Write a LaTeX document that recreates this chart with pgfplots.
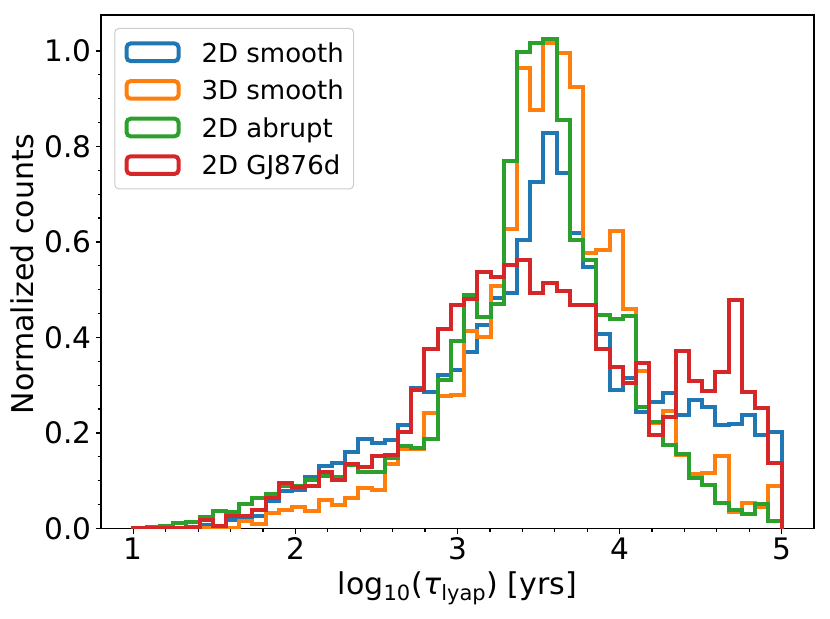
\documentclass[border=0pt]{standalone}
\usepackage{fontspec}
\setmainfont{DejaVu Sans}
\usepackage{pgfplots}
\pgfplotsset{compat=1.18}
\usepackage{pgfplotstable}
\definecolor{tabblue}{HTML}{1F77B4}
\definecolor{taborange}{HTML}{FF7F0E}
\definecolor{tabgreen}{HTML}{2CA02C}
\definecolor{tabred}{HTML}{D62728}

% left bin edges (49 bins between 1 and 5) and normalized counts
\pgfplotstableread{
x      b     o     g     r
1.0000 0     0     0     0
1.0000 0.000 0.000 0.000 0.001
1.0816 0.000 0.000 0.003 0.001
1.1633 0.001 0.000 0.006 0.001
1.2449 0.002 0.000 0.012 0.002
1.3265 0.004 0.001 0.014 0.002
1.4082 0.008 0.002 0.025 0.017
1.4898 0.005 0.004 0.037 0.006
1.5714 0.017 0.002 0.035 0.026
1.6531 0.022 0.015 0.051 0.026
1.7347 0.026 0.010 0.063 0.039
1.8163 0.058 0.033 0.072 0.063
1.8980 0.079 0.039 0.088 0.095
1.9796 0.080 0.044 0.089 0.086
2.0612 0.108 0.036 0.102 0.089
2.1429 0.130 0.059 0.110 0.118
2.2245 0.138 0.049 0.107 0.101
2.3061 0.161 0.064 0.133 0.136
2.3878 0.188 0.085 0.118 0.129
2.4694 0.179 0.080 0.118 0.151
2.5510 0.186 0.136 0.148 0.153
2.6327 0.216 0.166 0.173 0.203
2.7143 0.295 0.166 0.168 0.289
2.7959 0.285 0.241 0.188 0.376
2.8776 0.322 0.278 0.311 0.418
2.9592 0.331 0.279 0.393 0.468
3.0408 0.370 0.414 0.489 0.480
3.1224 0.427 0.400 0.442 0.536
3.2041 0.482 0.507 0.470 0.527
3.2857 0.493 0.626 0.769 0.551
3.3673 0.604 0.964 0.997 0.562
3.4490 0.725 0.877 1.016 0.493
3.5306 0.828 1.016 1.024 0.514
3.6122 0.745 0.995 0.856 0.498
3.6939 0.618 0.924 0.604 0.468
3.7755 0.548 0.577 0.563 0.467
3.8571 0.407 0.583 0.447 0.376
3.9388 0.289 0.623 0.438 0.339
4.0204 0.315 0.460 0.444 0.304
4.1020 0.244 0.330 0.254 0.347
4.1837 0.264 0.220 0.224 0.196
4.2653 0.283 0.247 0.175 0.233
4.3469 0.237 0.153 0.157 0.372
4.4286 0.270 0.115 0.106 0.308
4.5102 0.254 0.116 0.092 0.288
4.5918 0.216 0.152 0.054 0.327
4.6735 0.219 0.035 0.038 0.478
4.7551 0.238 0.054 0.031 0.285
4.8367 0.196 0.045 0.052 0.253
4.9184 0.203 0.090 0.015 0.137
5.0000 0     0     0     0
}\hist

\begin{document}
\begin{tikzpicture}
\path[use as bounding box] (-50.5pt,-44.75pt) rectangle (364.5pt,264.25pt);
\begin{axis}[
  at={(0,0)}, anchor=south west,
  scale only axis, width=356.5pt, height=256.75pt,
  xmin=0.8, xmax=5.2, ymin=0, ymax=1.075,
  axis line style={line width=0.8pt},
  tick align=outside, tick pos=left,
  major tick length=2.5pt, minor tick length=1.65pt,
  every tick/.style={black, line width=0.8pt},
  minor tick style={line width=0.6pt},
  xtick={1,2,3,4,5}, minor x tick num=4,
  ytick={0,0.2,0.4,0.6,0.8,1.0}, minor y tick num=3,
  yticklabel style={/pgf/number format/.cd, fixed, fixed zerofill, precision=1},
  /pgf/number format/assume math mode=true,
  tick label style={font=\fontsize{14.8}{17.5}\selectfont, inner sep=2pt},
  label style={font=\fontsize{15}{18}\selectfont},
  xlabel={log\textsubscript{10}(\textit{τ}\textsubscript{lyap}) [yrs]},
  ylabel={Normalized counts},
  xlabel style={at={(axis description cs:0.5,-0.1168)}, anchor=center},
  ylabel style={at={(axis description cs:-0.110,0.495)}, anchor=center},
  legend cell align=left,
  legend style={at={(axis description cs:0.01865,0.9747)}, anchor=north west,
    draw=black!20, line width=0.5pt, rounded corners=2pt,
    fill=white, fill opacity=0.8, text opacity=1,
    font=\fontsize{13}{15.6}\selectfont,
    inner xsep=4.9pt, inner ysep=6.5pt,
    nodes={inner sep=0pt, text depth=0pt},
    column sep=10.5pt, row sep=8pt},
  legend image code/.code={\draw[#1, line width=2pt, line join=miter] (0pt,-4.4pt) rectangle (26pt,4.4pt);},
]
\addplot[tabblue, line width=2pt, line join=miter, const plot mark left] table[x=x, y=b] {\hist};
\addlegendentry{2D smooth}
\addplot[taborange, line width=2pt, line join=miter, const plot mark left] table[x=x, y=o] {\hist};
\addlegendentry{3D smooth}
\addplot[tabgreen, line width=2pt, line join=miter, const plot mark left] table[x=x, y=g] {\hist};
\addlegendentry{2D abrupt}
\addplot[tabred, line width=2pt, line join=miter, const plot mark left] table[x=x, y=r] {\hist};
\addlegendentry{2D GJ876d}
\end{axis}
\end{tikzpicture}
\end{document}
